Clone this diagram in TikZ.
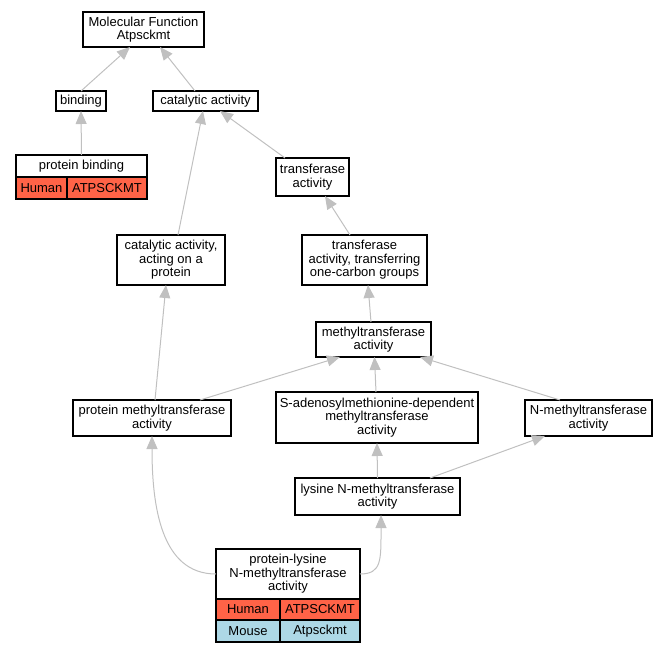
\documentclass[tikz,border=0pt]{standalone}
\usepackage{fontspec}
\setmainfont{Liberation Sans}
\usepackage{xcolor}
\usepackage{tikz}
\usetikzlibrary{shapes,arrows.meta,positioning,calc}

\definecolor{human}{RGB}{255,99,71}
\definecolor{mouse}{RGB}{173,216,230}
\definecolor{edgegray}{RGB}{192,192,192}

\begin{document}
\begin{tikzpicture}[x=1pt, y=-1pt,
    box/.style={rectangle, draw, line width=1.2pt, fill=white, outer sep=0pt, inner sep=2pt, align=center, font=\fontsize{13}{13.6}\selectfont},
    cell/.style={box, minimum height=22pt},
    isa/.style={draw=edgegray, line width=1pt, -{Triangle[length=13pt, width=11pt, fill=edgegray]}}]
        \useasboundingbox (0,0) rectangle (667,653);

        \node[box, minimum width=121pt, minimum height=35pt] (mf) at (143.5,29.5) {Molecular Function\\Atpsckmt};
        \node[box, minimum width=50pt, minimum height=20pt] (bind) at (81,101) {binding};
        \node[box, minimum width=105pt, minimum height=20pt] (cat) at (205.5,101) {catalytic activity};

        \node[box, minimum width=131pt, minimum height=22pt] (pb) at (81.5,166) {protein binding};
        \node[cell, fill=human, minimum width=51pt, below right=0pt of pb.south west] (pbhs) {Human};
        \node[cell, fill=human, minimum width=80pt, right=0pt of pbhs] (pbhg) {ATPSCKMT};

        \node[box, minimum width=73pt, minimum height=38pt] (tr) at (312.5,177) {transferase\\activity};
        \node[box, minimum width=108pt, minimum height=50pt] (caop) at (171,260) {catalytic activity,\\acting on a\\protein};
        \node[box, minimum width=125pt, minimum height=50pt] (tro) at (364.5,260) {transferase\\activity, transferring\\one-carbon groups};
        \node[box, minimum width=115pt, minimum height=35pt] (mt) at (373.5,339.5) {methyltransferase\\activity};
        \node[box, minimum width=158pt, minimum height=36pt] (pm) at (152,418) {protein methyltransferase\\activity};
        \node[box, minimum width=202pt, minimum height=51pt] (sam) at (377,417.5) {S-adenosylmethionine-dependent\\methyltransferase\\activity};
        \node[box, minimum width=127pt, minimum height=36pt] (nmt) at (588.5,418) {N-methyltransferase\\activity};
        \node[box, minimum width=165pt, minimum height=37pt] (lys) at (377.5,496.5) {lysine N-methyltransferase\\activity};

        \node[box, minimum width=144pt, minimum height=50pt] (plk) at (288,574) {protein-lysine\\N-methyltransferase\\activity};
        \node[cell, fill=human, minimum width=64pt, minimum height=21pt, below right=0pt of plk.south west] (plkhs) {Human};
        \node[cell, fill=human, minimum width=80pt, minimum height=21pt, right=0pt of plkhs] (plkhg) {ATPSCKMT};
        \node[cell, fill=mouse, minimum width=64pt, below right=0pt of plkhs.south west] (plkms) {Mouse};
        \node[cell, fill=mouse, minimum width=80pt, right=0pt of plkms] (plkmg) {Atpsckmt};

        % is_a edges, child to parent
        \draw[isa] (bind.north) -- ([xshift=-13.5pt]mf.south);
        \draw[isa] ([xshift=-10.5pt]cat.north) -- ([xshift=16.5pt]mf.south);
        \draw[isa] (pb.north) -- (bind.south);
        \draw[isa] ([xshift=-27.5pt]tr.north) -- ([xshift=14.5pt]cat.south);
        \draw[isa] ([xshift=7pt]caop.north) -- ([xshift=-2.5pt]cat.south);
        \draw[isa] ([xshift=-14.5pt]tro.north) -- ([xshift=12.5pt]tr.south);
        \draw[isa] ([xshift=-2.5pt]mt.north) -- ([xshift=3.5pt]tro.south);
        \draw[isa] ([xshift=3pt]pm.north) -- ([xshift=-5pt]caop.south);
        \draw[isa] ([xshift=48pt]pm.north) -- ([xshift=-33.5pt]mt.south);
        \draw[isa] ([xshift=-1pt]sam.north) -- ([xshift=1pt]mt.south);
        \draw[isa] ([xshift=-28.5pt]nmt.north) -- ([xshift=46.5pt]mt.south);
        \draw[isa] (lys.north) -- (sam.south);
        \draw[isa] ([xshift=52.5pt]lys.north) -- ([xshift=-43.5pt]nmt.south);
        \draw[isa] (plk.west) .. controls +(-55,0) and +(0,70) .. (pm.south);
        \draw[isa] (plk.east) .. controls +(22,0) and +(0,45) .. ([xshift=3.5pt]lys.south);
    \end{tikzpicture}
\end{document}
